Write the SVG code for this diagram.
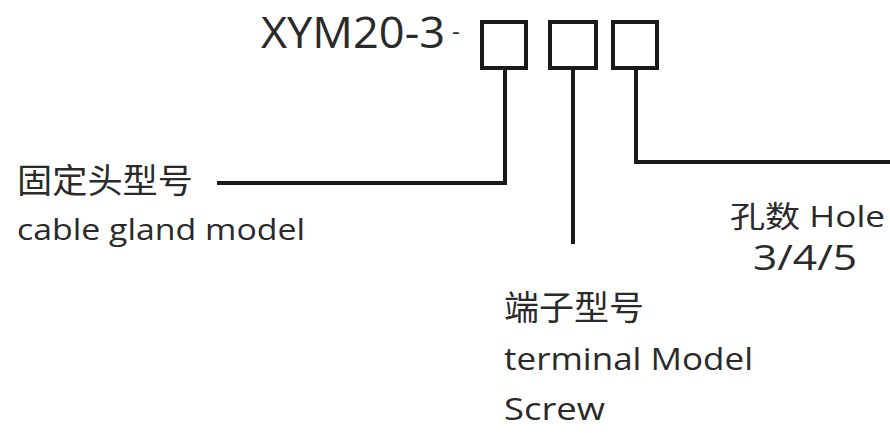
<svg xmlns="http://www.w3.org/2000/svg" width="890" height="433" viewBox="0 0 890 433">
<style>
.t{font-family:"Open Sans","Noto Sans CJK SC",sans-serif;fill:#2a2a2a}
.box{fill:none;stroke:#1a1a1a;stroke-width:4}
.ln{fill:none;stroke:#1a1a1a;stroke-width:4}
</style>
<rect width="890" height="433" fill="#ffffff"/>
<g id="title">
<text class="t" x="261" y="48" font-size="43" textLength="184" lengthAdjust="spacingAndGlyphs">XYM20-3</text>
<text class="t" x="452" y="40" font-size="24">-</text>
</g>
<g id="box1"><rect class="box" x="482" y="22" width="44" height="46"/></g>
<g id="box2"><rect class="box" x="550" y="22" width="46" height="46"/></g>
<g id="box3"><rect class="box" x="613" y="22" width="44" height="46"/></g>
<g id="connectors">
<polyline class="ln" points="505,68 505,183 217,183"/>
<line class="ln" x1="573" y1="68" x2="573" y2="244"/>
<polyline class="ln" points="636,68 636,162 890,162"/>
</g>
<g id="label-gland">
<text class="t" x="17" y="193" font-size="34" textLength="176" lengthAdjust="spacingAndGlyphs">固定头型号</text>
<text class="t" x="17" y="240" font-size="30" textLength="288" lengthAdjust="spacingAndGlyphs">cable gland model</text>
</g>
<g id="label-terminal">
<text class="t" x="504" y="320" font-size="34" textLength="140" lengthAdjust="spacingAndGlyphs">端子型号</text>
<text class="t" x="504" y="370" font-size="31" textLength="249" lengthAdjust="spacingAndGlyphs">terminal Model</text>
<text class="t" x="504" y="420" font-size="31" textLength="101" lengthAdjust="spacingAndGlyphs">Screw</text>
</g>
<g id="label-hole">
<text class="t" x="730" y="227" font-size="30" textLength="155" lengthAdjust="spacingAndGlyphs">孔数 Hole</text>
<text class="t" x="753" y="270" font-size="35" textLength="104" lengthAdjust="spacingAndGlyphs">3/4/5</text>
</g>
</svg>
